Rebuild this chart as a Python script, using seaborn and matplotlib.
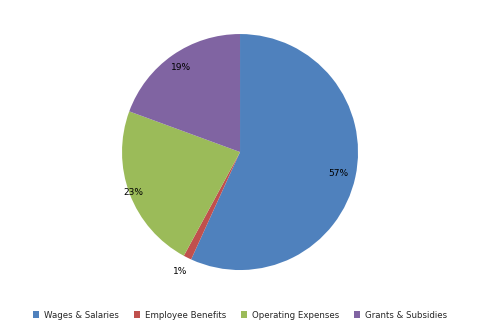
import matplotlib
matplotlib.use("Agg")
import matplotlib.pyplot as plt
import seaborn as sns
import numpy as np
from matplotlib.patches import Patch

categories = ["Wages & Salaries", "Employee Benefits", "Operating Expenses", "Grants & Subsidies"]
values = [56.8, 1.1, 22.7, 19.4]
labels_txt = ["57%", "1%", "23%", "19%"]
colors = ["#4F81BD", "#C0504D", "#9BBB59", "#8064A2"]
label_dist = [0.85, 1.13, 0.97, 0.87]

sns.set_theme(style="white")
plt.rcParams['font.family'] = ['DejaVu Sans']

fig = plt.figure(figsize=(4.8, 3.33), dpi=100)
fig.patch.set_facecolor("white")
ax = fig.add_axes([0.5 - 0.2458, 0.5435 - 0.3544, 0.4917, 0.7087])
wedges, _ = ax.pie(values, colors=colors, startangle=90, counterclock=False,
                   radius=1.0, wedgeprops=dict(linewidth=0))
for w, t, d in zip(wedges, labels_txt, label_dist):
    ang = np.deg2rad((w.theta1 + w.theta2) / 2)
    ax.text(d * np.cos(ang), d * np.sin(ang), t, ha="center", va="center",
            fontsize=6.5, color="black")
ax.set_xlim(-1, 1)
ax.set_ylim(-1, 1)
ax.set_aspect("equal")
ax.axis("off")

handles = [Patch(facecolor=c, edgecolor="none") for c in colors]
fig.legend(handles, categories, loc="center", bbox_to_anchor=(0.5, 1 - 315 / 333),
           ncol=4, frameon=False, fontsize=6.2, handlelength=0.7, handleheight=0.7,
           columnspacing=1.7, handletextpad=0.6)

fig.savefig("out.png", dpi=100, facecolor="white")
